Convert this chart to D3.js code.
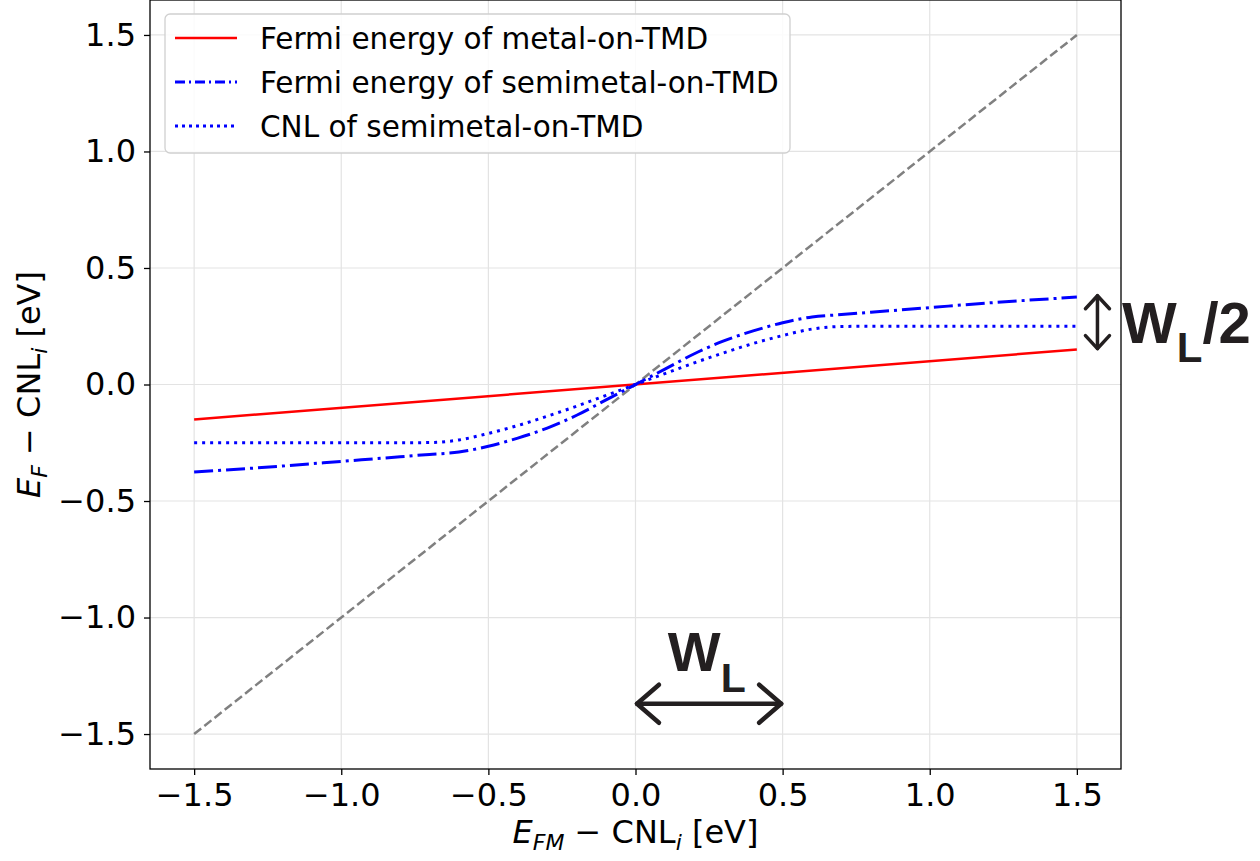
<!DOCTYPE html>
<html>
<head>
<meta charset="utf-8">
<script src="https://cdn.jsdelivr.net/npm/d3@7"></script>
<style>
  body { margin: 0; background: #fff; }
  svg text { font-family: "DejaVu Sans", sans-serif; }
</style>
</head>
<body>
<div id="chart"></div>
<script>
// valeurs
var xTicks = [-1.5, -1.0, -0.5, 0.0, 0.5, 1.0, 1.5];
var yTicks = [-1.5, -1.0, -0.5, 0.0, 0.5, 1.0, 1.5];

var xLine = [-1.5, 1.5];
var yDiag = [-1.5, 1.5];          // E_F = E_FM (gris)
var yMetal = [-0.15, 0.15];       // metal-on-TMD

var xSemi = [-1.5, -1.2, -1.0, -0.8, -0.7, -0.6, -0.5, -0.4, -0.3, -0.2, -0.1, 0,
             0.1, 0.2, 0.3, 0.4, 0.5, 0.6, 0.7, 0.8, 1.0, 1.2, 1.5];
var ySemiFermi = [-0.375, -0.35, -0.33, -0.31, -0.30, -0.29, -0.265, -0.23, -0.187, -0.132, -0.066, 0,
                  0.066, 0.132, 0.187, 0.23, 0.265, 0.29, 0.30, 0.31, 0.33, 0.35, 0.375];
var yCNL = [-0.25, -0.25, -0.25, -0.25, -0.249, -0.238, -0.21, -0.176, -0.136, -0.093, -0.047, 0,
            0.047, 0.093, 0.136, 0.176, 0.21, 0.238, 0.249, 0.25, 0.25, 0.25, 0.25];

var legendLabels = ["Fermi energy of metal-on-TMD", "Fermi energy of semimetal-on-TMD", "CNL of semimetal-on-TMD"];

var W = 1260, H = 861;
var margin = { top: 0, right: 139, bottom: 92, left: 150 };
var w = W - margin.left - margin.right;
var h = H - margin.top - margin.bottom;

var svg = d3.select("#chart").append("svg")
  .attr("width", W).attr("height", H);

var g = svg.append("g")
  .attr("transform", "translate(" + margin.left + "," + margin.top + ")");

var x = d3.scaleLinear().domain([-1.65, 1.65]).range([0, w]);
var y = d3.scaleLinear().domain([-1.65, 1.65]).range([h, 0]);

// grille
g.selectAll(".gx").data(xTicks).enter().append("line")
  .attr("x1", d => x(d)).attr("x2", d => x(d))
  .attr("y1", 0).attr("y2", h)
  .attr("stroke", "#e3e3e3").attr("stroke-width", 1.2);
g.selectAll(".gy").data(yTicks).enter().append("line")
  .attr("y1", d => y(d)).attr("y2", d => y(d))
  .attr("x1", 0).attr("x2", w)
  .attr("stroke", "#e3e3e3").attr("stroke-width", 1.2);

var fmt = d => d3.format(".1f")(d).replace("-", "\u2212");

var xAxis = g.append("g").attr("transform", "translate(0," + h + ")")
  .call(d3.axisBottom(x).tickValues(xTicks).tickFormat(fmt).tickSize(6).tickPadding(8));
var yAxis = g.append("g")
  .call(d3.axisLeft(y).tickValues(yTicks).tickFormat(fmt).tickSize(6).tickPadding(8));

[xAxis, yAxis].forEach(a => {
  a.select(".domain").remove();
  a.selectAll("line").attr("stroke", "#000").attr("stroke-width", 1.3);
  a.selectAll("text").attr("font-size", 32).attr("fill", "#000")
    .style("font-family", "DejaVu Sans");
});
xAxis.selectAll("text").attr("dy", "0.72em");

// courbes
var line = d3.line().x(d => x(d[0])).y(d => y(d[1]));
var lineSmooth = d3.line().x(d => x(d[0])).y(d => y(d[1])).curve(d3.curveMonotoneX);

g.append("path").datum(d3.zip(xLine, yDiag))
  .attr("d", line).attr("fill", "none")
  .attr("stroke", "#808080").attr("stroke-width", 2.5).attr("stroke-dasharray", "9,4");

g.append("path").datum(d3.zip(xLine, yMetal))
  .attr("d", line).attr("fill", "none")
  .attr("stroke", "#ff0000").attr("stroke-width", 2.5);

g.append("path").datum(d3.zip(xSemi, ySemiFermi))
  .attr("d", lineSmooth).attr("fill", "none")
  .attr("stroke", "#0000ff").attr("stroke-width", 3).attr("stroke-dasharray", "19,5,3,5");

g.append("path").datum(d3.zip(xSemi, yCNL))
  .attr("d", lineSmooth).attr("fill", "none")
  .attr("stroke", "#0000ff").attr("stroke-width", 3).attr("stroke-dasharray", "3,5");

// cadre
g.append("rect").attr("width", w).attr("height", h)
  .attr("fill", "none").attr("stroke", "#000").attr("stroke-width", 1.3);

// legende
var leg = svg.append("g").attr("transform", "translate(165,14)");
leg.append("rect").attr("width", 625).attr("height", 139).attr("rx", 5)
  .attr("fill", "#fff").attr("fill-opacity", 0.85)
  .attr("stroke", "#d0d0d0").attr("stroke-width", 1.3);
var styles = [
  { c: "#ff0000", dash: null, lw: 2.5 },
  { c: "#0000ff", dash: "10,4,2,4", lw: 3 },
  { c: "#0000ff", dash: "3,4", lw: 3 }
];
legendLabels.forEach((lab, i) => {
  var yy = 24 + i * 44;
  leg.append("line").attr("x1", 10).attr("x2", 72).attr("y1", yy).attr("y2", yy)
    .attr("stroke", styles[i].c).attr("stroke-width", styles[i].lw)
    .attr("stroke-dasharray", styles[i].dash);
  leg.append("text").attr("x", 95).attr("y", yy).attr("dy", "0.36em")
    .attr("font-size", 29.5).attr("fill", "#000").text(lab);
});

// titres des axes
var xl = svg.append("text")
  .attr("x", margin.left + w / 2).attr("y", 843)
  .attr("text-anchor", "middle").attr("font-size", 32).attr("fill", "#000");
xl.append("tspan").attr("font-style", "italic").text("E");
xl.append("tspan").attr("font-style", "italic").attr("font-size", 22).attr("dy", 7).text("FM");
xl.append("tspan").attr("dy", -7).text(" \u2212 CNL");
xl.append("tspan").attr("font-style", "italic").attr("font-size", 22).attr("dy", 7).text("i");
xl.append("tspan").attr("dy", -7).text(" [eV]");

var yl = svg.append("text")
  .attr("transform", "translate(40," + (margin.top + h / 2) + ") rotate(-90)")
  .attr("text-anchor", "middle").attr("font-size", 32).attr("fill", "#000");
yl.append("tspan").attr("font-style", "italic").text("E");
yl.append("tspan").attr("font-style", "italic").attr("font-size", 22).attr("dy", 7).text("F");
yl.append("tspan").attr("dy", -7).text(" \u2212 CNL");
yl.append("tspan").attr("font-style", "italic").attr("font-size", 22).attr("dy", 7).text("i");
yl.append("tspan").attr("dy", -7).text(" [eV]");

// annotations W_L
var ink = "#231f20";
var ann = g.append("g").attr("fill", "none").attr("stroke", ink)
  .attr("stroke-linecap", "round").attr("stroke-linejoin", "round");

// fleche horizontale W_L (0 -> 0.5)
var ay = y(-1.37), ax0 = x(0.005), ax1 = x(0.495);
ann.append("line").attr("x1", ax0).attr("x2", ax1).attr("y1", ay).attr("y2", ay).attr("stroke-width", 4.5);
ann.append("path").attr("stroke-width", 4.5)
  .attr("d", "M" + (ax0 + 22) + "," + (ay - 19) + "L" + ax0 + "," + ay + "L" + (ax0 + 22) + "," + (ay + 19));
ann.append("path").attr("stroke-width", 4.5)
  .attr("d", "M" + (ax1 - 22) + "," + (ay - 19) + "L" + ax1 + "," + ay + "L" + (ax1 - 22) + "," + (ay + 19));

var t1 = g.append("text").attr("x", x(0.11)).attr("y", y(-1.23))
  .attr("fill", ink).style("font-family", "Liberation Sans, Arial, sans-serif")
  .attr("font-weight", "bold");
t1.append("tspan").attr("font-size", 56).text("W");
t1.append("tspan").attr("font-size", 41).attr("dy", 21).text("L");

// fleche verticale W_L/2
var vx = x(1.57), vy0 = y(0.381), vy1 = y(0.154);
ann.append("line").attr("x1", vx).attr("x2", vx).attr("y1", vy0).attr("y2", vy1).attr("stroke-width", 3.5);
ann.append("path").attr("stroke-width", 3.5)
  .attr("d", "M" + (vx - 12) + "," + (vy0 + 13) + "L" + vx + "," + vy0 + "L" + (vx + 12) + "," + (vy0 + 13));
ann.append("path").attr("stroke-width", 3.5)
  .attr("d", "M" + (vx - 12) + "," + (vy1 - 13) + "L" + vx + "," + vy1 + "L" + (vx + 12) + "," + (vy1 - 13));

var t2 = svg.append("text").attr("x", 1122).attr("y", margin.top + y(0.177))
  .attr("fill", ink).style("font-family", "Liberation Sans, Arial, sans-serif")
  .attr("font-weight", "bold");
t2.append("tspan").attr("font-size", 58).text("W");
t2.append("tspan").attr("font-size", 42).attr("dy", 19).text("L");
t2.append("tspan").attr("font-size", 58).attr("dy", -19).text("/2");
</script>
</body>
</html>
